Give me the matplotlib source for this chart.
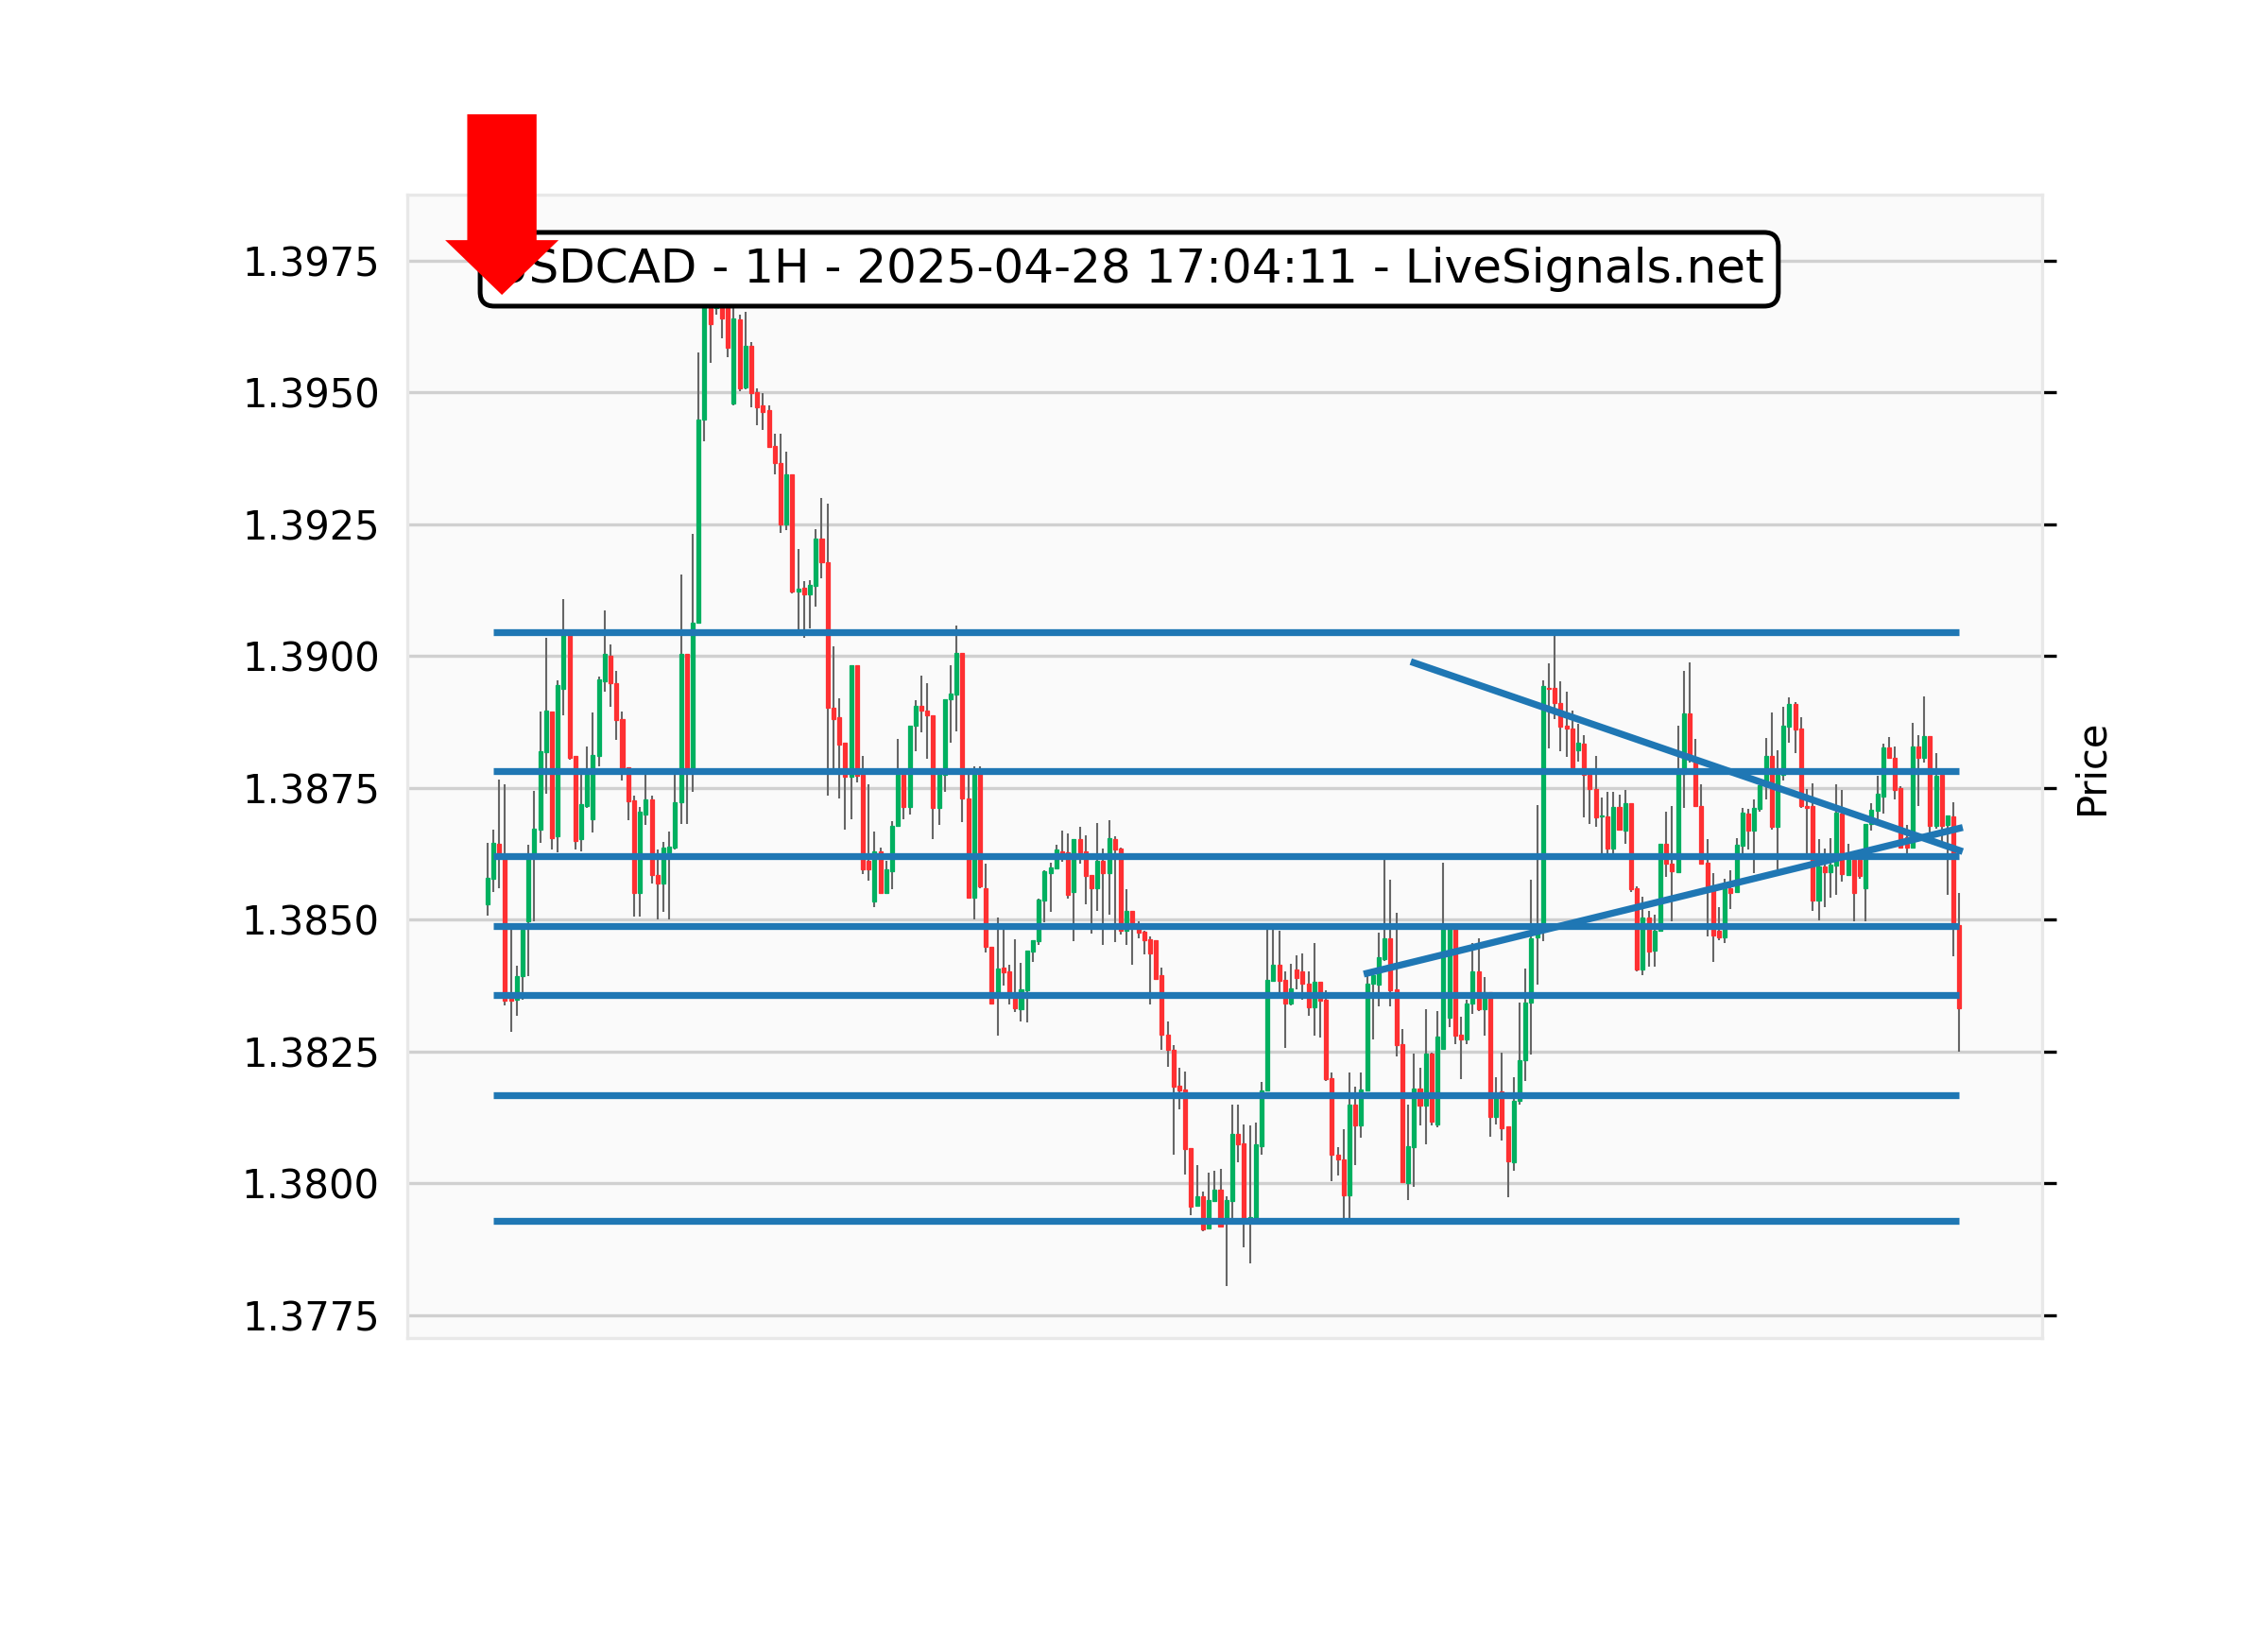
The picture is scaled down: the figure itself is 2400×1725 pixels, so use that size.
import matplotlib
matplotlib.use("Agg")
import matplotlib.pyplot as plt
import numpy as np

title = "USDCAD - 1H - 2025-04-28 17:04:11 - LiveSignals.net"

opens = [1.38529,1.38577,1.38644,1.38623,1.38351,1.38348,1.38393,1.38496,1.38618,1.38670,
1.38817,1.38894,1.38657,1.38938,1.39041,1.38810,1.38653,1.38716,1.38690,1.38810,
1.38952,1.39000,1.38949,1.38880,1.38789,1.38726,1.38551,1.38699,1.38728,1.38585,
1.38568,1.38627,1.38637,1.38723,1.39004,1.38787,1.39063,1.39449,1.39680,1.39660,
1.39680,1.39660,1.39478,1.39639,1.39509,1.39589,1.39500,1.39475,1.39467,1.39398,
1.39365,1.39249,1.39344,1.39123,1.39129,1.39116,1.39133,1.39222,1.39178,1.38902,
1.38883,1.38835,1.38770,1.38983,1.38774,1.38611,1.38534,1.38629,1.38551,1.38592,
1.38677,1.38774,1.38714,1.38868,1.38905,1.38896,1.38888,1.38712,1.38774,1.38918,
1.38927,1.39005,1.38730,1.38541,1.38780,1.38560,1.38449,1.38361,1.38409,1.38402,
1.38361,1.38330,1.38366,1.38440,1.38459,1.38536,1.38588,1.38597,1.38630,1.38628,
1.38552,1.38653,1.38630,1.38585,1.38560,1.38611,1.38588,1.38653,1.38634,1.38478,
1.38517,1.38492,1.38477,1.38463,1.38460,1.38394,1.38281,1.38253,1.38185,1.38178,
1.38067,1.37957,1.37975,1.37914,1.37966,1.37987,1.37933,1.37966,1.38093,1.38075,
1.37931,1.37933,1.38070,1.38175,1.38383,1.38415,1.38385,1.38340,1.38405,1.38401,
1.38379,1.38333,1.38381,1.38347,1.38199,1.38054,1.38045,1.37976,1.38149,1.38109,
1.38176,1.38379,1.38377,1.38425,1.38464,1.38368,1.38263,1.38000,1.38068,1.38179,
1.38147,1.38245,1.38112,1.38255,1.38314,1.38482,1.38282,1.38272,1.38340,1.38401,
1.38329,1.38362,1.38125,1.38174,1.38107,1.38040,1.38156,1.38233,1.38342,1.38466,
1.38487,1.38940,1.38940,1.38910,1.38867,1.38863,1.38821,1.38834,1.38775,1.38748,
1.38695,1.38696,1.38635,1.38713,1.38669,1.38721,1.38559,1.38406,1.38503,1.38441,
1.38478,1.38643,1.38606,1.38590,1.38776,1.38891,1.38803,1.38716,1.38608,1.38562,
1.38478,1.38466,1.38559,1.38553,1.38640,1.38700,1.38668,1.38710,1.38754,1.38810,
1.38676,1.38775,1.38865,1.38909,1.38862,1.38716,1.38715,1.38536,1.38601,1.38589,
1.38602,1.38700,1.38585,1.38613,1.38613,1.38560,1.38681,1.38706,1.38734,1.38827,
1.38806,1.38749,1.38656,1.38636,1.38828,1.38806,1.38847,1.38678,1.38775,1.38679,
1.38695,1.38490]

highs = [1.38646,1.38670,1.38766,1.38756,1.38482,1.38412,1.38487,1.38641,1.38744,1.38894,
1.39035,1.38894,1.38953,1.39107,1.39041,1.38810,1.38775,1.38829,1.38892,1.38960,
1.39086,1.39022,1.38971,1.38894,1.38789,1.38735,1.38713,1.38775,1.38735,1.38632,
1.38648,1.38667,1.38775,1.39155,1.39004,1.39231,1.39576,1.39720,1.39720,1.39710,
1.39700,1.39680,1.39660,1.39648,1.39653,1.39595,1.39507,1.39498,1.39475,1.39421,
1.39421,1.39388,1.39344,1.39203,1.39142,1.39144,1.39241,1.39300,1.39289,1.39019,
1.38920,1.38835,1.38983,1.38983,1.38810,1.38756,1.38667,1.38637,1.38611,1.38686,
1.38843,1.38774,1.38868,1.38916,1.38962,1.38949,1.38888,1.38774,1.38918,1.38983,
1.39058,1.39005,1.38774,1.38790,1.38790,1.38605,1.38449,1.38504,1.38480,1.38415,
1.38463,1.38417,1.38441,1.38461,1.38540,1.38593,1.38608,1.38641,1.38668,1.38663,
1.38653,1.38675,1.38659,1.38585,1.38683,1.38634,1.38689,1.38657,1.38637,1.38557,
1.38517,1.38496,1.38478,1.38468,1.38460,1.38409,1.38306,1.38261,1.38218,1.38212,
1.38067,1.38035,1.37984,1.38019,1.38024,1.38027,1.37975,1.38148,1.38148,1.38112,
1.38110,1.38115,1.38191,1.38482,1.38482,1.38479,1.38401,1.38416,1.38432,1.38436,
1.38401,1.38455,1.38381,1.38365,1.38209,1.38069,1.38103,1.38209,1.38182,1.38210,
1.38395,1.38398,1.38475,1.38613,1.38575,1.38512,1.38292,1.38148,1.38245,1.38218,
1.38329,1.38248,1.38326,1.38607,1.38482,1.38482,1.38315,1.38347,1.38455,1.38465,
1.38391,1.38362,1.38201,1.38248,1.38107,1.38200,1.38343,1.38407,1.38575,1.38717,
1.38954,1.38985,1.39038,1.38951,1.38932,1.38896,1.38871,1.38849,1.38785,1.38810,
1.38732,1.38742,1.38742,1.38737,1.38746,1.38721,1.38562,1.38544,1.38516,1.38509,
1.38643,1.38705,1.38715,1.38867,1.38972,1.38988,1.38842,1.38757,1.38652,1.38588,
1.38523,1.38577,1.38593,1.38655,1.38712,1.38709,1.38728,1.38754,1.38845,1.38893,
1.38821,1.38903,1.38922,1.38913,1.38884,1.38748,1.38758,1.38652,1.38634,1.38655,
1.38757,1.38745,1.38644,1.38613,1.38613,1.38682,1.38721,1.38773,1.38833,1.38846,
1.38828,1.38752,1.38679,1.38873,1.38849,1.38924,1.38847,1.38815,1.38775,1.38697,
1.38722,1.38550]

lows = [1.38508,1.38552,1.38560,1.38337,1.38286,1.38318,1.38348,1.38393,1.38496,1.38646,
1.38738,1.38632,1.38627,1.38887,1.38803,1.38632,1.38629,1.38712,1.38665,1.38791,
1.38932,1.38904,1.38841,1.38763,1.38688,1.38505,1.38505,1.38679,1.38569,1.38501,
1.38515,1.38501,1.38632,1.38681,1.38681,1.38742,1.39063,1.39407,1.39556,1.39648,
1.39603,1.39566,1.39475,1.39503,1.39506,1.39472,1.39437,1.39428,1.39395,1.39344,
1.39234,1.39238,1.39119,1.39051,1.39035,1.39053,1.39094,1.39147,1.38735,1.38777,
1.38730,1.38671,1.38690,1.38760,1.38587,1.38573,1.38523,1.38548,1.38548,1.38557,
1.38677,1.38690,1.38699,1.38819,1.38855,1.38805,1.38653,1.38679,1.38743,1.38836,
1.38857,1.38684,1.38541,1.38500,1.38559,1.38437,1.38338,1.38280,1.38375,1.38338,
1.38324,1.38306,1.38304,1.38419,1.38451,1.38494,1.38515,1.38597,1.38609,1.38539,
1.38459,1.38605,1.38528,1.38474,1.38517,1.38451,1.38510,1.38458,1.38472,1.38451,
1.38414,1.38464,1.38433,1.38338,1.38386,1.38252,1.38221,1.38054,1.38139,1.38017,
1.37940,1.37957,1.37909,1.37914,1.37966,1.37917,1.37804,1.37933,1.38039,1.37879,
1.37848,1.37933,1.38053,1.38175,1.38383,1.38362,1.38257,1.38337,1.38367,1.38347,
1.38318,1.38280,1.38276,1.38194,1.38003,1.38014,1.37933,1.37933,1.38035,1.38086,
1.38176,1.38272,1.38335,1.38422,1.38335,1.38241,1.38002,1.37967,1.37992,1.38109,
1.38073,1.38109,1.38105,1.38255,1.38296,1.38263,1.38197,1.38263,1.38321,1.38327,
1.38279,1.38088,1.38112,1.38080,1.37974,1.38024,1.38149,1.38193,1.38244,1.38376,
1.38459,1.38825,1.38880,1.38819,1.38808,1.38774,1.38799,1.38694,1.38682,1.38676,
1.38626,1.38626,1.38626,1.38669,1.38643,1.38553,1.38402,1.38395,1.38410,1.38410,
1.38476,1.38581,1.38496,1.38590,1.38711,1.38797,1.38713,1.38604,1.38468,1.38420,
1.38461,1.38455,1.38519,1.38550,1.38616,1.38633,1.38588,1.38704,1.38728,1.38670,
1.38595,1.38763,1.38836,1.38816,1.38711,1.38625,1.38517,1.38498,1.38523,1.38542,
1.38547,1.38572,1.38582,1.38496,1.38578,1.38496,1.38668,1.38688,1.38700,1.38804,
1.38727,1.38635,1.38626,1.38636,1.38716,1.38797,1.38664,1.38673,1.38643,1.38547,
1.38431,1.38249]

closes = [1.38579,1.38646,1.38626,1.38346,1.38346,1.38393,1.38480,1.38618,1.38672,1.38819,
1.38896,1.38655,1.38944,1.39041,1.38807,1.38649,1.38719,1.38775,1.38812,1.38955,
1.39004,1.38948,1.38878,1.38787,1.38724,1.38551,1.38704,1.38728,1.38585,1.38568,
1.38637,1.38639,1.38723,1.39004,1.38787,1.39063,1.39449,1.39680,1.39630,1.39680,
1.39640,1.39585,1.39640,1.39507,1.39589,1.39498,1.39472,1.39463,1.39396,1.39365,
1.39249,1.39344,1.39122,1.39127,1.39116,1.39135,1.39222,1.39177,1.38901,1.38881,
1.38831,1.38770,1.38983,1.38772,1.38595,1.38595,1.38629,1.38550,1.38595,1.38677,
1.38774,1.38714,1.38868,1.38905,1.38896,1.38887,1.38712,1.38774,1.38918,1.38929,
1.39005,1.38730,1.38541,1.38774,1.38562,1.38448,1.38340,1.38407,1.38400,1.38361,
1.38332,1.38367,1.38441,1.38461,1.38537,1.38591,1.38599,1.38633,1.38625,1.38546,
1.38653,1.38628,1.38583,1.38560,1.38611,1.38588,1.38654,1.38633,1.38478,1.38517,
1.38492,1.38475,1.38461,1.38435,1.38388,1.38281,1.38253,1.38183,1.38176,1.38065,
1.37956,1.37975,1.37913,1.37967,1.37987,1.37918,1.37967,1.38093,1.38074,1.37933,
1.37935,1.38074,1.38176,1.38385,1.38415,1.38383,1.38340,1.38370,1.38389,1.38378,
1.38333,1.38381,1.38346,1.38197,1.38054,1.38044,1.37976,1.38149,1.38109,1.38177,
1.38379,1.38394,1.38428,1.38464,1.38365,1.38261,1.38002,1.38070,1.38179,1.38147,
1.38245,1.38116,1.38278,1.38482,1.38482,1.38280,1.38273,1.38340,1.38401,1.38329,
1.38362,1.38126,1.38169,1.38104,1.38042,1.38156,1.38233,1.38342,1.38465,1.38487,
1.38943,1.38938,1.38910,1.38865,1.38862,1.38788,1.38836,1.38774,1.38748,1.38693,
1.38698,1.38635,1.38713,1.38671,1.38721,1.38557,1.38406,1.38503,1.38439,1.38478,
1.38643,1.38606,1.38591,1.38776,1.38891,1.38803,1.38715,1.38606,1.38562,1.38470,
1.38466,1.38559,1.38551,1.38641,1.38703,1.38668,1.38712,1.38754,1.38810,1.38676,
1.38775,1.38867,1.38909,1.38861,1.38715,1.38712,1.38536,1.38601,1.38589,1.38604,
1.38703,1.38586,1.38613,1.38551,1.38582,1.38682,1.38708,1.38739,1.38827,1.38806,
1.38746,1.38636,1.38636,1.38828,1.38807,1.38847,1.38678,1.38773,1.38677,1.38697,
1.38495,1.38331]

levels = [1.39045, 1.38782, 1.38620, 1.38488, 1.38356, 1.38167, 1.37928]
level_start, level_end = 1, 251

trend_down_x = [158, 251]
trend_down_y = [1.38987, 1.38631]
trend_up_x = [150, 251]
trend_up_y = [1.38398, 1.38673]

yticks = [1.3775, 1.3800, 1.3825, 1.3850, 1.3875, 1.3900, 1.3925, 1.3950, 1.3975]

UP = "#00b060"
DOWN = "#fe3032"
WICK = "#666666"
BLUE = "#1f77b4"

o = np.array(opens); h = np.array(highs); l = np.array(lows); c = np.array(closes)
n = len(o)
x = np.arange(n)

fig = plt.figure(figsize=(8, 5.75), dpi=300)
fig.patch.set_facecolor("white")
ax = fig.add_axes([0.1796, 0.1791, 0.7208, 0.7015])
ax.set_facecolor("#fafafa")

up = c >= o
colors = np.where(up, UP, DOWN)
ax.vlines(x, l, h, colors=WICK, linewidth=0.5, zorder=2)
body_bottom = np.minimum(o, c)
body_h = np.maximum(np.abs(c - o), 0.000015)
ax.bar(x, body_h, bottom=body_bottom, width=0.65, color=colors,
       edgecolor=colors, linewidth=0.3, zorder=3)

ax.hlines(levels, level_start, level_end, colors=BLUE, linewidth=1.75, zorder=5)
ax.plot(trend_down_x, trend_down_y, color=BLUE, linewidth=1.75, zorder=5)
ax.plot(trend_up_x, trend_up_y, color=BLUE, linewidth=1.75, zorder=5)

ax.set_xlim(-13.65, 265.1)
ax.set_ylim(1.37706, 1.39875)
ax.set_xticks([])
ax.set_yticks(yticks)
ax.set_yticklabels([f"{v:.4f}" for v in yticks])
ax.tick_params(axis="y", left=False, right=True, labelleft=True, labelright=False,
               labelsize=10, length=3.5, width=0.8, colors="black")
ax.yaxis.grid(True, color="#d0d0d0", linewidth=0.8)
ax.set_axisbelow(True)
for s in ax.spines.values():
    s.set_color("#e8e8e8")
    s.set_linewidth(0.8)
ax.yaxis.set_label_position("right")
ax.set_ylabel("Price", fontsize=10, labelpad=4)

ax.text(0.4979, 0.8348, title, transform=fig.transFigure, fontsize=12,
        ha="center", va="center", zorder=20, clip_on=False,
        bbox=dict(boxstyle="round,pad=0.3", facecolor="white", edgecolor="black", linewidth=1.2))

ax.annotate("", xy=(0.2213, 0.8191), xycoords="figure fraction",
            xytext=(0.2213, 0.9299), textcoords="figure fraction",
            arrowprops=dict(facecolor="red", edgecolor="none", linewidth=0, width=17.6,
                            headwidth=28.8, headlength=13.9, shrink=0.0),
            annotation_clip=False, zorder=30)

fig.savefig("out.png", dpi=300, facecolor="white")
